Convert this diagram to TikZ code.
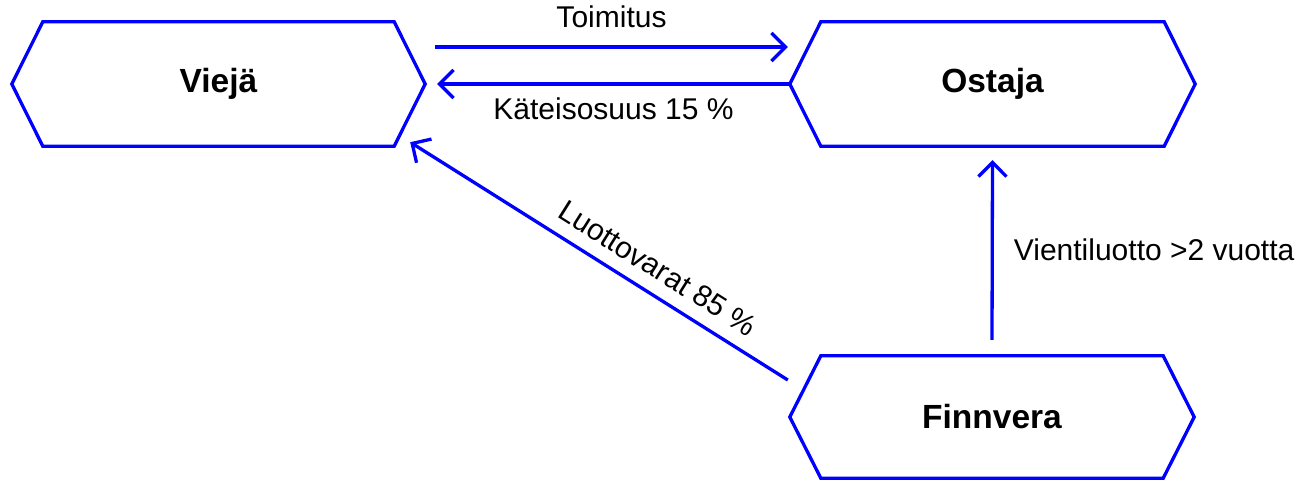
\documentclass[tikz,border=0pt]{standalone}
\usepackage{fontspec}
\setmainfont{Liberation Sans}
\usetikzlibrary{arrows.meta}
\definecolor{lineblue}{RGB}{0,0,255}
\tikzset{
  hexbox/.style={rectangle, draw=none, minimum width=#1, minimum height=124pt, inner sep=0pt,
    font=\fontsize{33.5}{38}\selectfont\bfseries},
  conn/.style={draw=lineblue, line width=3.3pt, -{Straight Barb[length=14pt,width=28pt]}},
  lbl/.style={font=\fontsize{30}{35}\selectfont, text=black, inner sep=0pt},
  hexline/.style={draw=lineblue, line width=3.3pt, line join=miter}
}
\newcommand{\hexof}[1]{%
  \draw[hexline] (#1.west) -- ([xshift=31pt]#1.north west) -- ([xshift=-31pt]#1.north east)
    -- (#1.east) -- ([xshift=-31pt]#1.south east) -- ([xshift=31pt]#1.south west) -- cycle;}
\begin{document}
\begin{tikzpicture}[x=1pt,y=-1pt]
\useasboundingbox (0,0) rectangle (1314,480);
\node[hexbox=413pt] (V) at (218.5,84) {Viejä};
\node[hexbox=405pt] (O) at (992.5,84) {Ostaja};
\node[hexbox=404pt, minimum height=122pt] (F) at (992,417) {Finnvera};
\hexof{V}
\hexof{O}
\hexof{F}
\draw[conn] ([xshift=10pt,yshift=37pt]V.east) -- ([xshift=-2pt,yshift=37pt]O.west)
  node[lbl, midway, above=18pt] (t1) {Toimitus};
\draw[conn] (O.west) -- ([xshift=12pt]V.east)
  node[lbl, midway, below=12pt] (t2) {Käteisosuus 15 \%};
\draw[conn] ([xshift=-2pt,yshift=37pt]F.west) -- ([xshift=-15pt,yshift=4pt]V.south east)
  node[lbl, pos=0.38, sloped, above=13pt] (t3) {Luottovarat 85 \%};
\draw[conn] ([yshift=16pt]F.north) -- ([yshift=-14pt]O.south)
  node[lbl, midway, right=20pt] (t4) {Vientiluotto >2 vuotta};
\end{tikzpicture}
\end{document}
